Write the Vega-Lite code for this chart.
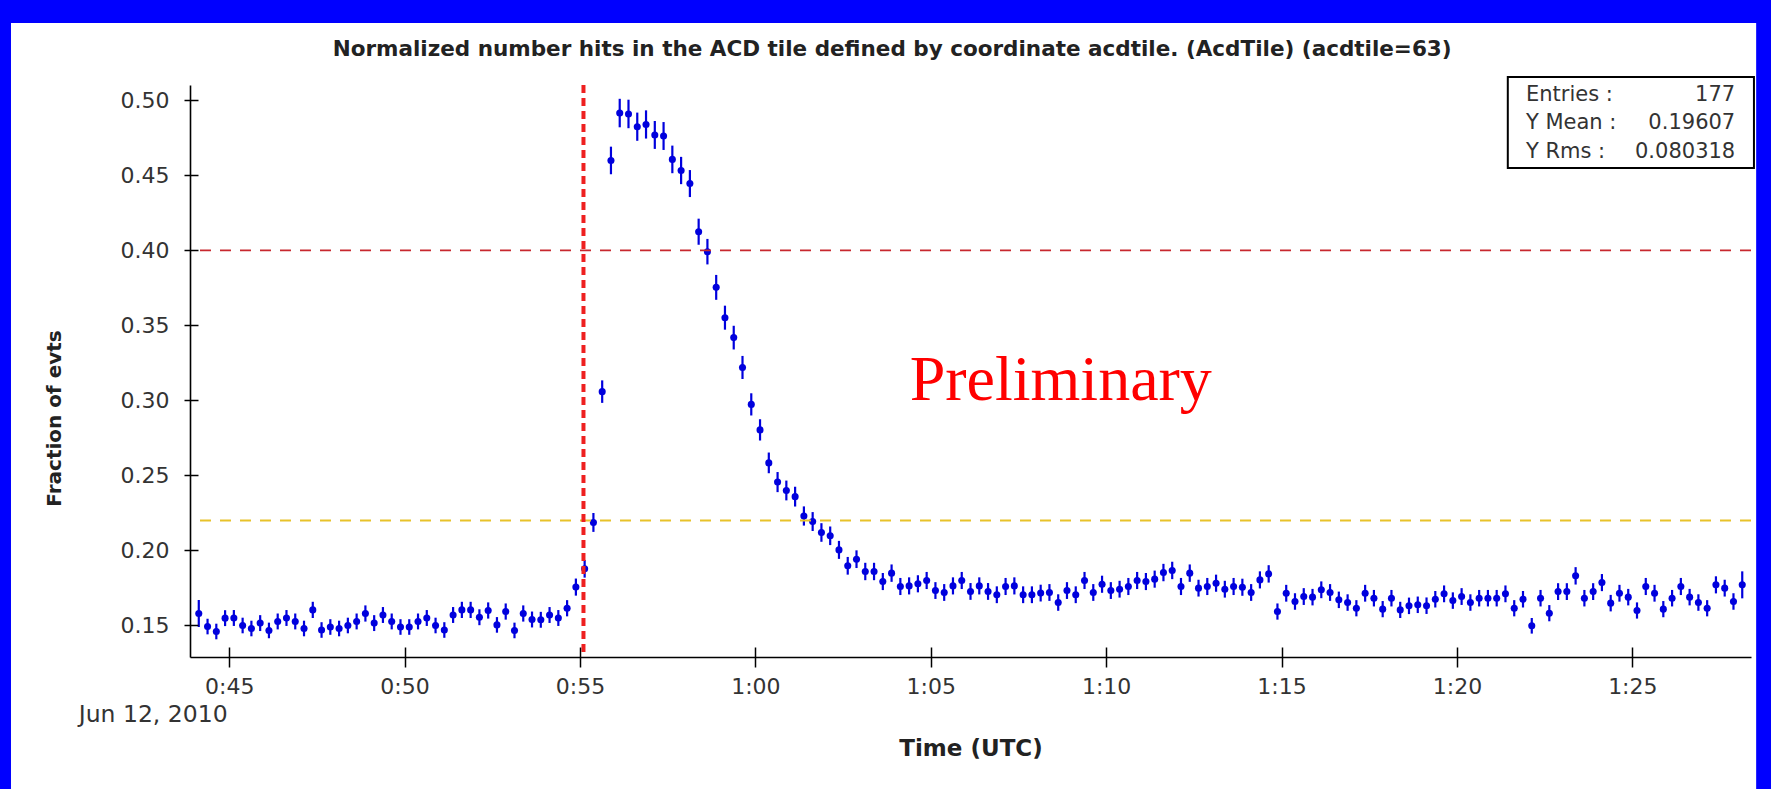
{
  "$schema": "https://vega.github.io/schema/vega-lite/v6.json",
  "width": 1561,
  "height": 572,
  "autosize": {"type": "none"},
  "padding": {"left": 190, "top": 85, "right": 20, "bottom": 132},
  "background": "#0000FF",
  "config": {"view": {"stroke": null}, "font": "DejaVu Sans"},
  "resolve": {"axis": {"x": "independent", "y": "independent"}},
  "data": {"values": [
    {"min":44.1333,"y":0.158,"e":0.009},
    {"min":44.3833,"y":0.1493,"e":0.0052},
    {"min":44.6333,"y":0.146,"e":0.0052},
    {"min":44.8833,"y":0.1549,"e":0.0053},
    {"min":45.1333,"y":0.155,"e":0.0053},
    {"min":45.3833,"y":0.150,"e":0.0052},
    {"min":45.6333,"y":0.148,"e":0.0052},
    {"min":45.8833,"y":0.1516,"e":0.0053},
    {"min":46.1333,"y":0.1467,"e":0.0052},
    {"min":46.3833,"y":0.1527,"e":0.0053},
    {"min":46.6333,"y":0.155,"e":0.0053},
    {"min":46.8833,"y":0.1527,"e":0.0053},
    {"min":47.1333,"y":0.148,"e":0.0052},
    {"min":47.3833,"y":0.1604,"e":0.0054},
    {"min":47.6333,"y":0.147,"e":0.0052},
    {"min":47.8833,"y":0.149,"e":0.0052},
    {"min":48.1333,"y":0.148,"e":0.0052},
    {"min":48.3833,"y":0.150,"e":0.0052},
    {"min":48.6333,"y":0.1527,"e":0.0053},
    {"min":48.8833,"y":0.158,"e":0.0054},
    {"min":49.1333,"y":0.1516,"e":0.0053},
    {"min":49.3833,"y":0.157,"e":0.0053},
    {"min":49.6333,"y":0.1527,"e":0.0053},
    {"min":49.8833,"y":0.149,"e":0.0052},
    {"min":50.1333,"y":0.149,"e":0.0052},
    {"min":50.3833,"y":0.1527,"e":0.0053},
    {"min":50.6333,"y":0.155,"e":0.0053},
    {"min":50.8833,"y":0.150,"e":0.0052},
    {"min":51.1333,"y":0.147,"e":0.0052},
    {"min":51.3833,"y":0.157,"e":0.0053},
    {"min":51.6333,"y":0.1604,"e":0.0054},
    {"min":51.8833,"y":0.1604,"e":0.0054},
    {"min":52.1333,"y":0.1555,"e":0.0053},
    {"min":52.3833,"y":0.160,"e":0.0054},
    {"min":52.6333,"y":0.1504,"e":0.0052},
    {"min":52.8833,"y":0.1593,"e":0.0054},
    {"min":53.1333,"y":0.1467,"e":0.0052},
    {"min":53.3833,"y":0.158,"e":0.0054},
    {"min":53.6333,"y":0.154,"e":0.0053},
    {"min":53.8833,"y":0.1538,"e":0.0053},
    {"min":54.1333,"y":0.157,"e":0.0053},
    {"min":54.3833,"y":0.155,"e":0.0053},
    {"min":54.6333,"y":0.1615,"e":0.0054},
    {"min":54.8833,"y":0.1756,"e":0.0057},
    {"min":55.1333,"y":0.1878,"e":0.0059},
    {"min":55.3833,"y":0.2187,"e":0.0063},
    {"min":55.6333,"y":0.3059,"e":0.0075},
    {"min":55.8833,"y":0.460,"e":0.0092},
    {"min":56.1333,"y":0.4916,"e":0.0095},
    {"min":56.3833,"y":0.491,"e":0.0095},
    {"min":56.6333,"y":0.4825,"e":0.0094},
    {"min":56.8833,"y":0.484,"e":0.0094},
    {"min":57.1333,"y":0.477,"e":0.0093},
    {"min":57.3833,"y":0.4763,"e":0.0093},
    {"min":57.6333,"y":0.4607,"e":0.0092},
    {"min":57.8833,"y":0.4533,"e":0.0091},
    {"min":58.1333,"y":0.4446,"e":0.009},
    {"min":58.3833,"y":0.4125,"e":0.0087},
    {"min":58.6333,"y":0.3992,"e":0.0085},
    {"min":58.8833,"y":0.3754,"e":0.0083},
    {"min":59.1333,"y":0.3552,"e":0.008},
    {"min":59.3833,"y":0.3419,"e":0.0079},
    {"min":59.6333,"y":0.322,"e":0.0077},
    {"min":59.8833,"y":0.2974,"e":0.0074},
    {"min":60.1333,"y":0.2804,"e":0.0071},
    {"min":60.3833,"y":0.2584,"e":0.0069},
    {"min":60.6333,"y":0.2456,"e":0.0067},
    {"min":60.8833,"y":0.240,"e":0.0066},
    {"min":61.1333,"y":0.2359,"e":0.0066},
    {"min":61.3833,"y":0.223,"e":0.0064},
    {"min":61.6333,"y":0.2193,"e":0.0063},
    {"min":61.8833,"y":0.212,"e":0.0062},
    {"min":62.1333,"y":0.2098,"e":0.0062},
    {"min":62.3833,"y":0.2004,"e":0.006},
    {"min":62.6333,"y":0.1898,"e":0.0059},
    {"min":62.8833,"y":0.1942,"e":0.0059},
    {"min":63.1333,"y":0.186,"e":0.0058},
    {"min":63.3833,"y":0.186,"e":0.0058},
    {"min":63.6333,"y":0.1793,"e":0.0057},
    {"min":63.8833,"y":0.1849,"e":0.0058},
    {"min":64.1333,"y":0.176,"e":0.0057},
    {"min":64.3833,"y":0.1764,"e":0.0057},
    {"min":64.6333,"y":0.1778,"e":0.0057},
    {"min":64.8833,"y":0.180,"e":0.0057},
    {"min":65.1333,"y":0.1733,"e":0.0056},
    {"min":65.3833,"y":0.172,"e":0.0056},
    {"min":65.6333,"y":0.1764,"e":0.0057},
    {"min":65.8833,"y":0.180,"e":0.0057},
    {"min":66.1333,"y":0.1727,"e":0.0056},
    {"min":66.3833,"y":0.1764,"e":0.0057},
    {"min":66.6333,"y":0.1727,"e":0.0056},
    {"min":66.8833,"y":0.1705,"e":0.0056},
    {"min":67.1333,"y":0.176,"e":0.0057},
    {"min":67.3833,"y":0.1764,"e":0.0057},
    {"min":67.6333,"y":0.1705,"e":0.0056},
    {"min":67.8833,"y":0.1705,"e":0.0056},
    {"min":68.1333,"y":0.1716,"e":0.0056},
    {"min":68.3833,"y":0.172,"e":0.0056},
    {"min":68.6333,"y":0.1653,"e":0.0055},
    {"min":68.8833,"y":0.1733,"e":0.0056},
    {"min":69.1333,"y":0.1705,"e":0.0056},
    {"min":69.3833,"y":0.180,"e":0.0057},
    {"min":69.6333,"y":0.172,"e":0.0056},
    {"min":69.8833,"y":0.1775,"e":0.0057},
    {"min":70.1333,"y":0.1733,"e":0.0056},
    {"min":70.3833,"y":0.1742,"e":0.0056},
    {"min":70.6333,"y":0.176,"e":0.0057},
    {"min":70.8833,"y":0.180,"e":0.0057},
    {"min":71.1333,"y":0.1793,"e":0.0057},
    {"min":71.3833,"y":0.1809,"e":0.0057},
    {"min":71.6333,"y":0.1853,"e":0.0058},
    {"min":71.8833,"y":0.1867,"e":0.0058},
    {"min":72.1333,"y":0.176,"e":0.0057},
    {"min":72.3833,"y":0.1849,"e":0.0058},
    {"min":72.6333,"y":0.1749,"e":0.0056},
    {"min":72.8833,"y":0.176,"e":0.0057},
    {"min":73.1333,"y":0.1782,"e":0.0057},
    {"min":73.3833,"y":0.1742,"e":0.0056},
    {"min":73.6333,"y":0.176,"e":0.0057},
    {"min":73.8833,"y":0.1755,"e":0.0057},
    {"min":74.1333,"y":0.172,"e":0.0056},
    {"min":74.3833,"y":0.1804,"e":0.0057},
    {"min":74.6333,"y":0.1844,"e":0.0058},
    {"min":74.8833,"y":0.1593,"e":0.0054},
    {"min":75.1333,"y":0.1715,"e":0.0056},
    {"min":75.3833,"y":0.166,"e":0.0055},
    {"min":75.6333,"y":0.1693,"e":0.0056},
    {"min":75.8833,"y":0.1689,"e":0.0055},
    {"min":76.1333,"y":0.1738,"e":0.0056},
    {"min":76.3833,"y":0.172,"e":0.0056},
    {"min":76.6333,"y":0.1671,"e":0.0055},
    {"min":76.8833,"y":0.1653,"e":0.0055},
    {"min":77.1333,"y":0.1615,"e":0.0054},
    {"min":77.3833,"y":0.1715,"e":0.0056},
    {"min":77.6333,"y":0.1682,"e":0.0055},
    {"min":77.8833,"y":0.1609,"e":0.0054},
    {"min":78.1333,"y":0.1682,"e":0.0055},
    {"min":78.3833,"y":0.1604,"e":0.0054},
    {"min":78.6333,"y":0.1631,"e":0.0055},
    {"min":78.8833,"y":0.1638,"e":0.0055},
    {"min":79.1333,"y":0.1632,"e":0.0055},
    {"min":79.3833,"y":0.1675,"e":0.0055},
    {"min":79.6333,"y":0.1711,"e":0.0056},
    {"min":79.8833,"y":0.1666,"e":0.0055},
    {"min":80.1333,"y":0.1693,"e":0.0056},
    {"min":80.3833,"y":0.1653,"e":0.0055},
    {"min":80.6333,"y":0.1682,"e":0.0055},
    {"min":80.8833,"y":0.1682,"e":0.0055},
    {"min":81.1333,"y":0.1682,"e":0.0055},
    {"min":81.3833,"y":0.1711,"e":0.0056},
    {"min":81.6333,"y":0.1615,"e":0.0054},
    {"min":81.8833,"y":0.1675,"e":0.0055},
    {"min":82.1333,"y":0.1498,"e":0.0052},
    {"min":82.3833,"y":0.1682,"e":0.0055},
    {"min":82.6333,"y":0.1582,"e":0.0054},
    {"min":82.8833,"y":0.1726,"e":0.0056},
    {"min":83.1333,"y":0.1726,"e":0.0056},
    {"min":83.3833,"y":0.1831,"e":0.0058},
    {"min":83.6333,"y":0.1682,"e":0.0055},
    {"min":83.8833,"y":0.1726,"e":0.0056},
    {"min":84.1333,"y":0.1786,"e":0.0057},
    {"min":84.3833,"y":0.1649,"e":0.0055},
    {"min":84.6333,"y":0.1715,"e":0.0056},
    {"min":84.8833,"y":0.1689,"e":0.0055},
    {"min":85.1333,"y":0.160,"e":0.0054},
    {"min":85.3833,"y":0.176,"e":0.0057},
    {"min":85.6333,"y":0.1715,"e":0.0056},
    {"min":85.8833,"y":0.1609,"e":0.0054},
    {"min":86.1333,"y":0.1682,"e":0.0055},
    {"min":86.3833,"y":0.176,"e":0.0057},
    {"min":86.6333,"y":0.1689,"e":0.0055},
    {"min":86.8833,"y":0.1653,"e":0.0055},
    {"min":87.1333,"y":0.1615,"e":0.0054},
    {"min":87.3833,"y":0.1771,"e":0.0057},
    {"min":87.6333,"y":0.1749,"e":0.0056},
    {"min":87.8833,"y":0.166,"e":0.0055},
    {"min":88.1333,"y":0.1771,"e":0.009}
  ]},
  "layer": [
    {
      "data": {"values": [{}]},
      "mark": {"type": "rect", "fill": "white"},
      "encoding": {
        "x": {"datum": 38.78, "type": "quantitative", "axis": null},
        "x2": {"datum": 88.53},
        "y": {"datum": 0.5516, "type": "quantitative", "axis": null},
        "y2": {"datum": 0.03}
      }
    },
    {
      "mark": {"type": "errorbar", "color": "#0000DD", "thickness": 2.2},
      "encoding": {
        "x": {"field": "min", "type": "quantitative",
          "scale": {"domain": [43.883, 88.383], "nice": false, "zero": false},
          "axis": {"title": "Time (UTC)", "orient": "bottom", "values": [45, 50, 55, 60, 65, 70, 75, 80, 85], "zindex": 1,
            "labelExpr": "floor(datum.value / 60) + ':' + (datum.value % 60 < 10 ? '0' : '') + (datum.value % 60)",
            "grid": false,
            "labelFont": "DejaVu Sans", "labelFontSize": 22, "labelColor": "#333333", "labelPadding": 9, "labelFlush": false,
            "tickSize": 10, "tickColor": "#000000", "tickWidth": 1.5, "domainColor": "#000000", "domainWidth": 1.6,
            "titleFont": "DejaVu Sans", "titleFontSize": 23, "titleFontWeight": "bold", "titleColor": "#222222", "titleY": 98, "titleBaseline": "alphabetic"}},
        "y": {"field": "y", "type": "quantitative",
          "scale": {"domain": [0.129, 0.5103], "nice": false, "zero": false},
          "axis": {"title": "Fraction of evts", "orient": "left", "format": ".2f", "values": [0.15, 0.2, 0.25, 0.3, 0.35, 0.4, 0.45, 0.5], "grid": false, "zindex": 1,
            "labelFont": "DejaVu Sans", "labelFontSize": 22, "labelColor": "#333333", "labelPadding": 15,
            "tickSize": 6, "tickColor": "#000000", "tickWidth": 1.5, "domainColor": "#000000", "domainWidth": 1.6,
            "titleFont": "DejaVu Sans", "titleFontSize": 20, "titleFontWeight": "bold", "titleColor": "#222222",
            "titleX": -136, "titleY": 333, "titleAngle": -90, "titleAlign": "center", "titleBaseline": "middle"}},
        "yError": {"field": "e"}
      }
    },
    {
      "mark": {"type": "point", "shape": "circle", "filled": true, "size": 50, "color": "#0000DD", "opacity": 1},
      "encoding": {
        "x": {"field": "min", "type": "quantitative",
          "axis": {"orient": "bottom", "values": [45, 50, 55, 60, 65, 70, 75, 80, 85], "zindex": 1, "labels": false, "domain": false, "grid": false, "title": null,
            "tickSize": -10, "tickColor": "#000000", "tickWidth": 1.5}},
        "y": {"field": "y", "type": "quantitative",
          "axis": {"orient": "left", "values": [0.15, 0.2, 0.25, 0.3, 0.35, 0.4, 0.45, 0.5], "zindex": 1, "labels": false, "domain": false, "grid": false, "title": null,
            "tickSize": -8, "tickColor": "#000000", "tickWidth": 1.5}}
      }
    },
    {
      "data": {"values": [{}]},
      "mark": {"type": "rule", "color": "#C8282E", "strokeWidth": 1.8, "strokeDash": [11, 9]},
      "encoding": {"y": {"datum": 0.4, "type": "quantitative", "axis": null}}
    },
    {
      "data": {"values": [{}]},
      "mark": {"type": "rule", "color": "#E8C22A", "strokeWidth": 1.8, "strokeDash": [11, 9]},
      "encoding": {"y": {"datum": 0.22, "type": "quantitative", "axis": null}}
    },
    {
      "data": {"values": [{}]},
      "mark": {"type": "rule", "color": "#EE2020", "strokeWidth": 4, "strokeDash": [8, 5]},
      "encoding": {"x": {"datum": 55.1, "type": "quantitative", "axis": null}}
    },
    {
      "data": {"values": [{}]},
      "mark": {"type": "text", "text": "Normalized number hits in the ACD tile defined by coordinate acdtile. (AcdTile) (acdtile=63)", "font": "DejaVu Sans", "fontSize": 21.5, "fontWeight": "bold", "color": "#222222", "align": "center", "baseline": "middle"},
      "encoding": {
        "x": {"datum": 63.9, "type": "quantitative", "axis": null},
        "y": {"datum": 0.5335, "type": "quantitative", "axis": null}
      }
    },
    {
      "data": {"values": [{}]},
      "mark": {"type": "text", "text": "Preliminary", "font": "Liberation Serif", "fontSize": 64, "color": "#FF0000", "align": "left", "baseline": "alphabetic"},
      "encoding": {
        "x": {"datum": 64.4, "type": "quantitative", "axis": null},
        "y": {"datum": 0.3004, "type": "quantitative", "axis": null}
      }
    },
    {
      "data": {"values": [{}]},
      "mark": {"type": "rect", "fill": "white", "stroke": "#000000", "strokeWidth": 2},
      "encoding": {
        "x": {"datum": 81.45, "type": "quantitative", "axis": null},
        "x2": {"datum": 88.467},
        "y": {"datum": 0.5156, "type": "quantitative", "axis": null},
        "y2": {"datum": 0.455}
      }
    },
    {
      "data": {"values": [{}]},
      "mark": {"type": "text", "text": "Entries :", "fontSize": 21, "color": "#333333", "align": "left", "baseline": "middle"},
      "encoding": {"x": {"datum": 81.967, "type": "quantitative", "axis": null}, "y": {"datum": 0.5036, "type": "quantitative", "axis": null}}
    },
    {
      "data": {"values": [{}]},
      "mark": {"type": "text", "text": "Y Mean :", "fontSize": 21, "color": "#333333", "align": "left", "baseline": "middle"},
      "encoding": {"x": {"datum": 81.967, "type": "quantitative", "axis": null}, "y": {"datum": 0.4848, "type": "quantitative", "axis": null}}
    },
    {
      "data": {"values": [{}]},
      "mark": {"type": "text", "text": "Y Rms :", "fontSize": 21, "color": "#333333", "align": "left", "baseline": "middle"},
      "encoding": {"x": {"datum": 81.967, "type": "quantitative", "axis": null}, "y": {"datum": 0.4658, "type": "quantitative", "axis": null}}
    },
    {
      "data": {"values": [{}]},
      "mark": {"type": "text", "text": "177", "fontSize": 21, "color": "#333333", "align": "right", "baseline": "middle"},
      "encoding": {"x": {"datum": 87.933, "type": "quantitative", "axis": null}, "y": {"datum": 0.5036, "type": "quantitative", "axis": null}}
    },
    {
      "data": {"values": [{}]},
      "mark": {"type": "text", "text": "0.19607", "fontSize": 21, "color": "#333333", "align": "right", "baseline": "middle"},
      "encoding": {"x": {"datum": 87.933, "type": "quantitative", "axis": null}, "y": {"datum": 0.4848, "type": "quantitative", "axis": null}}
    },
    {
      "data": {"values": [{}]},
      "mark": {"type": "text", "text": "0.080318", "fontSize": 21, "color": "#333333", "align": "right", "baseline": "middle"},
      "encoding": {"x": {"datum": 87.933, "type": "quantitative", "axis": null}, "y": {"datum": 0.4658, "type": "quantitative", "axis": null}}
    },
    {
      "data": {"values": [{}]},
      "mark": {"type": "text", "text": "Jun 12, 2010", "fontSize": 23.5, "color": "#333333", "align": "center", "baseline": "middle"},
      "encoding": {"x": {"datum": 42.833, "type": "quantitative", "axis": null}, "y": {"datum": 0.0904, "type": "quantitative", "axis": null}}
    }
  ]
}
